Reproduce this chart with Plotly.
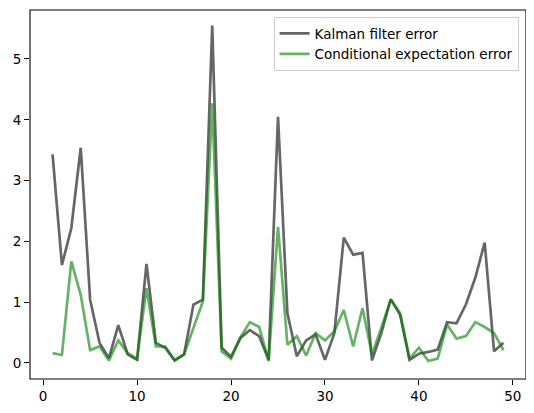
import plotly.graph_objects as go

# 时间步 1..49
steps = list(range(1, 50))

kalman_error = [
    3.43, 1.61, 2.22, 3.54, 1.04, 0.33, 0.08, 0.62, 0.14, 0.05,
    1.63, 0.33, 0.25, 0.04, 0.14, 0.96, 1.04, 5.55, 0.25, 0.10,
    0.41, 0.54, 0.44, 0.05, 4.05, 0.82, 0.11, 0.37, 0.47, 0.05,
    0.49, 2.06, 1.78, 1.81, 0.04, 0.49, 1.05, 0.79, 0.05, 0.15,
    0.18, 0.22, 0.67, 0.65, 0.96, 1.40, 1.98, 0.19, 0.33,
]

cond_exp_error = [
    0.16, 0.13, 1.67, 1.12, 0.21, 0.27, 0.04, 0.37, 0.16, 0.07,
    1.23, 0.27, 0.27, 0.04, 0.14, 0.58, 1.01, 4.27, 0.19, 0.07,
    0.42, 0.67, 0.59, 0.03, 2.24, 0.30, 0.44, 0.12, 0.49, 0.37,
    0.52, 0.87, 0.27, 0.90, 0.14, 0.58, 1.04, 0.82, 0.07, 0.25,
    0.03, 0.07, 0.63, 0.40, 0.44, 0.67, 0.59, 0.49, 0.21,
]

y_ticks = [0, 1, 2, 3, 4, 5]
x_ticks = [0, 10, 20, 30, 40, 50]

fig = go.Figure()

fig.add_trace(go.Scatter(
    x=steps, y=kalman_error,
    mode='lines',
    name='Kalman filter error',
    line=dict(color='rgba(0,0,0,0.6)', width=2.7),
))

fig.add_trace(go.Scatter(
    x=steps, y=cond_exp_error,
    mode='lines',
    name='Conditional expectation error',
    line=dict(color='rgba(0,128,0,0.6)', width=2.7),
))

axis_style = dict(
    showgrid=False,
    zeroline=False,
    showline=False,
    ticks='outside',
    ticklen=5,
    tickwidth=1.1,
    tickcolor='black',
    automargin=False,
    tickfont=dict(family='DejaVu Sans', size=13.5, color='black'),
)

# 坐标框用 shape 画，保证四边都显示
fig.add_shape(
    type='rect', xref='paper', yref='paper',
    x0=0, y0=0, x1=1, y1=1,
    line=dict(color='black', width=1.1),
    layer='above',
)

# 页面 body 有 8px 默认边距，整体缩小避免出现滚动条
fig.update_layout(
    width=526,
    height=397,
    margin=dict(l=22, r=8, t=2, b=26),
    plot_bgcolor='white',
    paper_bgcolor='white',
    font=dict(family='DejaVu Sans', size=13.5, color='black'),
    xaxis=dict(range=[-1.4, 51.4], tickvals=x_ticks, **axis_style),
    yaxis=dict(range=[-0.265, 5.806], tickvals=y_ticks, **axis_style),
    legend=dict(
        x=0.985, y=0.981,
        xanchor='right', yanchor='top',
        bgcolor='rgba(255,255,255,0.8)',
        bordercolor='#cccccc',
        borderwidth=1,
        font=dict(family='DejaVu Sans', size=13.5, color='black'),
        tracegroupgap=0,
    ),
    showlegend=True,
)

fig.write_html("out.html")
